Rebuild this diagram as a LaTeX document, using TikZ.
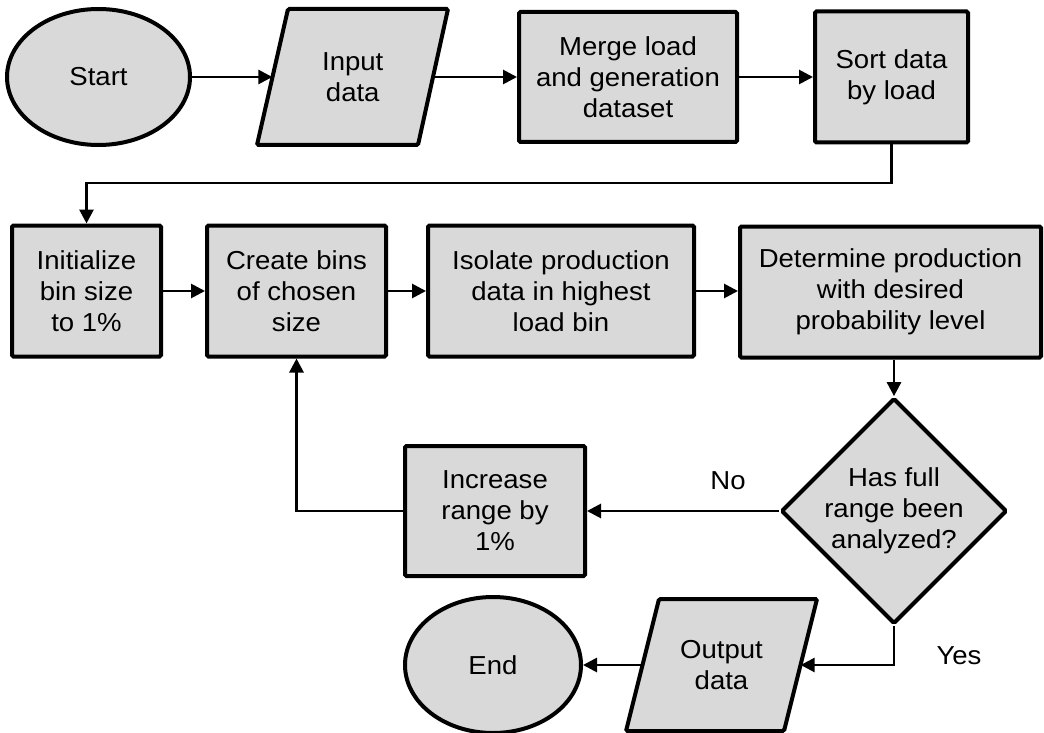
\documentclass[tikz,border=0pt]{standalone}
\usepackage{fontspec}
\setmainfont[FakeStretch=1.06]{Liberation Sans}
\usetikzlibrary{arrows.meta,shapes.geometric}
\definecolor{boxfill}{HTML}{D9D9D9}
\begin{document}
\begin{tikzpicture}[x=1pt,y=-1pt,
  txt/.style={align=center, font=\fontsize{26}{31}\selectfont, inner sep=0pt},
  outline/.style={draw=black, line width=4pt, fill=boxfill, rounded corners=1.5pt},
  proc/.style={txt, outline, rectangle},
  term/.style={txt, draw=black, line width=4pt, fill=boxfill, ellipse},
  decide/.style={txt, outline, diamond, aspect=1},
  iobox/.style={txt, rectangle, draw=none},
  conn/.style={line width=2.8pt, -{Triangle[length=14pt,width=14pt]}},
  lbl/.style={font=\fontsize{26}{31}\selectfont, inner sep=0pt}]
\useasboundingbox (0,0) rectangle (1044,733);

% top row
\node[term, minimum width=183pt, minimum height=136pt] (start) at (98.5,77) {Start};
\path[outline] (288,9) -- (448,9) -- (418,145) -- (257,145) -- cycle;
\node[iobox, minimum width=160.5pt, minimum height=136pt] (inp) at (352.75,77) {Input\\data};
\node[proc, minimum width=218pt, minimum height=130pt] (merge) at (628,77) {Merge load\\and generation\\dataset};
\node[proc, minimum width=153pt, minimum height=131pt] (sort) at (891.5,77) {Sort data\\by load};

% second row
\node[proc, minimum width=149pt, minimum height=131pt] (init) at (86.5,291) {Initialize\\bin size\\to 1\%};
\node[proc, minimum width=179pt, minimum height=131pt] (create) at (296.5,291) {Create bins\\of chosen\\size};
\node[proc, minimum width=266pt, minimum height=131pt] (isolate) at (561,291) {Isolate production\\data in highest\\load bin};
\node[proc, minimum width=301pt, minimum height=131pt] (determine) at (890.5,292) {Determine production\\with desired\\probability level};

% decision and loop
\node[decide, minimum width=216pt, minimum height=216pt] (check) at (894,511) {Has full\\range been\\analyzed?};
\node[proc, minimum width=180pt, minimum height=130pt] (increase) at (495,511) {Increase\\range by\\1\%};

% bottom row
\path[outline] (659,599) -- (817,599) -- (784,731) -- (626,731) -- cycle;
\node[iobox, minimum width=158pt, minimum height=132pt] (outp) at (721.5,665) {Output\\data};
\node[term, minimum width=176pt, minimum height=136pt] (end) at (493,665) {End};

% connectors
\draw[conn] (start.east) -- (inp.west);
\draw[conn] (inp.east) -- (merge.west);
\draw[conn] (merge.east) -- (sort.west);
\coordinate (wrap) at (0,183);
\draw[conn] (sort.south) -- (sort.south |- wrap) -| (init.north);
\draw[conn] (init.east) -- (create.west);
\draw[conn] (create.east) -- (isolate.west);
\draw[conn] (isolate.east) -- (determine.west |- isolate.east);
\draw[conn] (check.north |- determine.south) -- (check.north);
\draw[conn] (check.west) -- (increase.east);
\draw[conn] (increase.west) -| (create.south);
\draw[conn] (check.south) |- (outp.east);
\draw[conn] (outp.west) -- (end.east);

% branch labels
\node[lbl] (nolbl) at (728,481) {No};
\node[lbl] (yeslbl) at (959,656) {Yes};
\end{tikzpicture}
\end{document}
